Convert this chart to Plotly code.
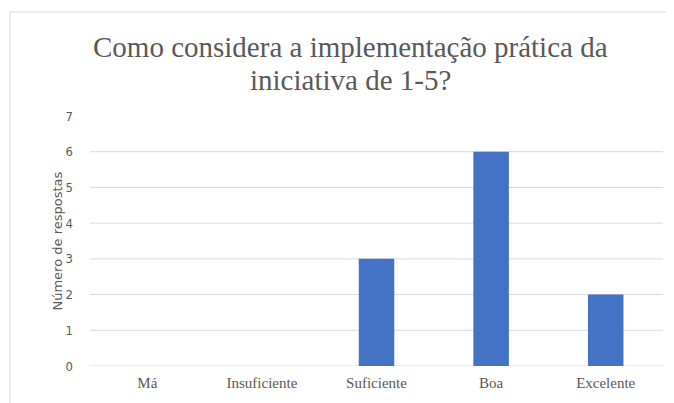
import plotly.graph_objects as go

# Data
categorias = ["Má", "Insuficiente", "Suficiente", "Boa", "Excelente"]
respostas = [0, 0, 3, 6, 2]
y_ticks = [0, 1, 2, 3, 4, 5, 6, 7]

titulo_linhas = ["Como considera a implementação prática da", "iniciativa de 1-5?"]
titulo_y = "Número de respostas"

BAR_COLOR = "#4472C4"
GRID_COLOR = "#d9d9d9"
TEXT_COLOR = "#595959"
SERIF = "Liberation Serif"

fig = go.Figure()
fig.add_trace(
    go.Bar(
        x=categorias,
        y=respostas,
        marker=dict(color=BAR_COLOR, line=dict(width=0)),
        hoverinfo="x+y",
    )
)

# gridlines 0..6 (no line at the top value, like the original)
shapes = []
for v in y_ticks[:-1]:
    shapes.append(
        dict(type="line", xref="paper", yref="y", x0=0, x1=1, y0=v, y1=v,
             line=dict(color=GRID_COLOR, width=1), layer="below")
    )
# chart frame (top and left edges visible in the crop)
shapes.append(dict(type="line", xref="paper", yref="paper", x0=-0.1396, x1=1.05,
                   y0=1.416, y1=1.416, line=dict(color=GRID_COLOR, width=1)))
shapes.append(dict(type="line", xref="paper", yref="paper", x0=-0.1396, x1=-0.1396,
                   y0=1.416, y1=-0.2, line=dict(color=GRID_COLOR, width=1)))

annotations = [
    dict(
        text=titulo_y,
        textangle=-90,
        xref="paper",
        yref="paper",
        x=-0.075,
        y=0.5,
        showarrow=False,
        font=dict(family="DejaVu Sans", size=13, color=TEXT_COLOR),
    )
]
for linha, ypos in zip(titulo_linhas, [1.276, 1.144]):
    annotations.append(
        dict(
            text=linha,
            xref="paper",
            yref="paper",
            x=0.4538,
            y=ypos,
            xanchor="center",
            yanchor="middle",
            showarrow=False,
            font=dict(family=SERIF, size=29, color=TEXT_COLOR),
        )
    )

fig.update_layout(
    width=674,
    height=403,
    margin=dict(l=82, r=19, t=108, b=45),
    paper_bgcolor="white",
    plot_bgcolor="white",
    showlegend=False,
    bargap=0.69,
    shapes=shapes,
    annotations=annotations,
)

fig.update_xaxes(
    showgrid=False,
    showline=False,
    zeroline=False,
    ticks="",
    tickfont=dict(family=SERIF, size=15, color=TEXT_COLOR),
    ticklabelstandoff=6,
)
fig.update_yaxes(
    range=[0, 7],
    tickvals=y_ticks,
    showgrid=False,
    zeroline=False,
    showline=False,
    ticks="",
    tickfont=dict(family="DejaVu Sans Condensed", size=13, color=TEXT_COLOR),
    ticklabelstandoff=16,
)

fig.write_html("out.html")
